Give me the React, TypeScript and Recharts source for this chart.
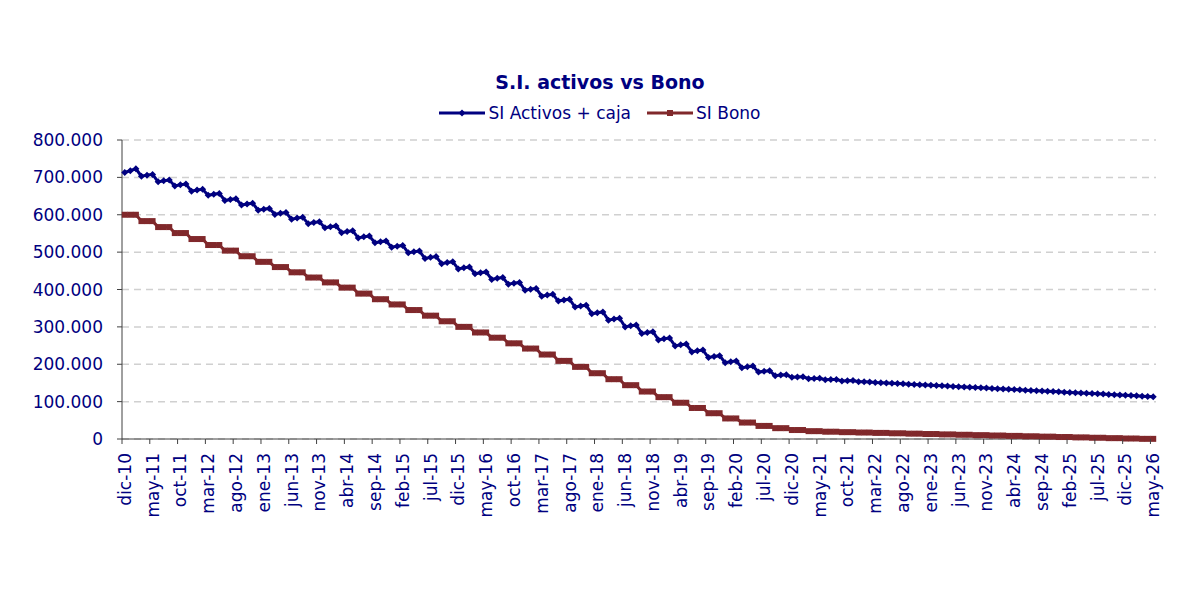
import { LineChart, Line, XAxis, YAxis, CartesianGrid } from "recharts";

// Meses (eje de categorías), dic-10 .. may-26
const meses = [
  "dic-10", "ene-11", "feb-11", "mar-11", "abr-11", "may-11", "jun-11", "jul-11", "ago-11", "sep-11", "oct-11", "nov-11",
  "dic-11", "ene-12", "feb-12", "mar-12", "abr-12", "may-12", "jun-12", "jul-12", "ago-12", "sep-12", "oct-12", "nov-12",
  "dic-12", "ene-13", "feb-13", "mar-13", "abr-13", "may-13", "jun-13", "jul-13", "ago-13", "sep-13", "oct-13", "nov-13",
  "dic-13", "ene-14", "feb-14", "mar-14", "abr-14", "may-14", "jun-14", "jul-14", "ago-14", "sep-14", "oct-14", "nov-14",
  "dic-14", "ene-15", "feb-15", "mar-15", "abr-15", "may-15", "jun-15", "jul-15", "ago-15", "sep-15", "oct-15", "nov-15",
  "dic-15", "ene-16", "feb-16", "mar-16", "abr-16", "may-16", "jun-16", "jul-16", "ago-16", "sep-16", "oct-16", "nov-16",
  "dic-16", "ene-17", "feb-17", "mar-17", "abr-17", "may-17", "jun-17", "jul-17", "ago-17", "sep-17", "oct-17", "nov-17",
  "dic-17", "ene-18", "feb-18", "mar-18", "abr-18", "may-18", "jun-18", "jul-18", "ago-18", "sep-18", "oct-18", "nov-18",
  "dic-18", "ene-19", "feb-19", "mar-19", "abr-19", "may-19", "jun-19", "jul-19", "ago-19", "sep-19", "oct-19", "nov-19",
  "dic-19", "ene-20", "feb-20", "mar-20", "abr-20", "may-20", "jun-20", "jul-20", "ago-20", "sep-20", "oct-20", "nov-20",
  "dic-20", "ene-21", "feb-21", "mar-21", "abr-21", "may-21", "jun-21", "jul-21", "ago-21", "sep-21", "oct-21", "nov-21",
  "dic-21", "ene-22", "feb-22", "mar-22", "abr-22", "may-22", "jun-22", "jul-22", "ago-22", "sep-22", "oct-22", "nov-22",
  "dic-22", "ene-23", "feb-23", "mar-23", "abr-23", "may-23", "jun-23", "jul-23", "ago-23", "sep-23", "oct-23", "nov-23",
  "dic-23", "ene-24", "feb-24", "mar-24", "abr-24", "may-24", "jun-24", "jul-24", "ago-24", "sep-24", "oct-24", "nov-24",
  "dic-24", "ene-25", "feb-25", "mar-25", "abr-25", "may-25", "jun-25", "jul-25", "ago-25", "sep-25", "oct-25", "nov-25",
  "dic-25", "ene-26", "feb-26", "mar-26", "abr-26", "may-26",
];

// SI Activos + caja
const siActivosCaja = [
  713000, 718000, 723000, 703000, 706000, 708000, 688000, 691000, 693000, 677000, 680000, 682000,
  663000, 666000, 668000, 652000, 655000, 657000, 638000, 641000, 643000, 626000, 629000, 631000,
  612000, 615000, 617000, 601000, 604000, 606000, 588000, 591000, 593000, 576000, 579000, 581000,
  565000, 568000, 570000, 552000, 555000, 557000, 538000, 541000, 543000, 525000, 528000, 530000,
  513000, 516000, 518000, 498000, 501000, 503000, 483000, 486000, 488000, 469000, 472000, 474000,
  455000, 458000, 460000, 442000, 445000, 447000, 427000, 430000, 432000, 414000, 417000, 419000,
  398000, 401000, 403000, 382000, 385000, 387000, 369000, 372000, 374000, 353000, 356000, 358000,
  335000, 338000, 340000, 318000, 321000, 323000, 300000, 303000, 305000, 282000, 285000, 287000,
  265000, 268000, 270000, 249000, 252000, 254000, 233000, 236000, 238000, 218000, 221000, 223000,
  204000, 207000, 209000, 190500, 193000, 195000, 179000, 181000, 182500, 169500, 171000, 172000,
  165000, 166000, 166800, 161200, 162000, 162600, 158400, 159000, 159500, 155500, 156000, 156400,
  153400, 153000, 152600, 151400, 150700, 150000, 149100, 148400, 147700, 146800, 146100, 145400,
  144500, 143800, 143100, 142200, 141500, 140800, 139900, 139200, 138500, 137600, 136900, 136200,
  135300, 134600, 133900, 133000, 132300, 131600, 130700, 130000, 129300, 128400, 127700, 127000,
  126100, 125400, 124700, 123800, 123100, 122400, 121500, 120800, 120100, 119200, 118500, 117800,
  116900, 116200, 115500, 114600, 113900, 113200,
];

// SI Bono
const siBono = [
  600000, 600000, 600000, 583000, 583000, 583000, 567000, 567000, 567000, 551000, 551000, 551000,
  535000, 535000, 535000, 519000, 519000, 519000, 504000, 504000, 504000, 489000, 489000, 489000,
  474000, 474000, 474000, 460000, 460000, 460000, 446000, 446000, 446000, 432000, 432000, 432000,
  419000, 419000, 419000, 405000, 405000, 405000, 389000, 389000, 389000, 374000, 374000, 374000,
  360000, 360000, 360000, 345000, 345000, 345000, 330000, 330000, 330000, 315000, 315000, 315000,
  300000, 300000, 300000, 285000, 285000, 285000, 271000, 271000, 271000, 256000, 256000, 256000,
  242000, 242000, 242000, 226000, 226000, 226000, 209000, 209000, 209000, 193000, 193000, 193000,
  176000, 176000, 176000, 160000, 160000, 160000, 144000, 144000, 144000, 127000, 127000, 127000,
  112000, 112000, 112000, 97000, 97000, 97000, 83000, 83000, 83000, 69000, 69000, 69000,
  55000, 55000, 55000, 44000, 44000, 44000, 35000, 35000, 35000, 29000, 29000, 29000,
  24000, 24000, 24000, 21000, 21000, 21000, 19500, 19500, 19500, 18300, 18300, 18300,
  17300, 17300, 17300, 16300, 16300, 16300, 15300, 15300, 15300, 14300, 14300, 14300,
  13300, 13300, 13300, 12300, 12300, 12300, 11300, 11300, 11300, 10300, 10300, 10300,
  9300, 9300, 9300, 8300, 8300, 8300, 7300, 7300, 7300, 6300, 6300, 6300,
  5300, 5300, 5300, 4300, 4300, 4300, 3300, 3300, 3300, 2300, 2300, 2300,
  1300, 1300, 1300, 400, 400, 400,
];

const yTicks = [0, 100000, 200000, 300000, 400000, 500000, 600000, 700000, 800000];

const NAVY = "#000080";
const GRANATE = "#80282b";
const AXIS = "#404040";
const FONT = "'DejaVu Sans', Verdana, sans-serif";

const CHART_W = 1168;
const CHART_H = 578;
const PLOT_W = 1034;
const CAT = PLOT_W / meses.length; // ancho de un mes

const data = meses.map((mes, i) => ({ mes, activos: siActivosCaja[i], bono: siBono[i] }));

function miles(v: number) {
  return String(v).replace(/\B(?=(\d{3})+(?!\d))/g, ".");
}

function MesTick(props: any) {
  const { x, y, payload } = props;
  const tx = x - CAT / 2;
  return (
    <g>
      <line x1={tx} y1={y} x2={tx} y2={y + 5} stroke={AXIS} strokeWidth={1} />
      <text
        transform={`translate(${x + 6},${y + 14}) rotate(-90)`}
        textAnchor="end"
        fill={NAVY}
        fontSize={17}
        fontFamily={FONT}
      >
        {payload.value}
      </text>
    </g>
  );
}

function Rombo(props: any) {
  const { cx, cy, index } = props;
  if (cx == null || cy == null) return <g key={`a-${index}`} />;
  const r = 3.5;
  return (
    <path
      key={`a-${index}`}
      d={`M${cx},${cy - r}L${cx + r},${cy}L${cx},${cy + r}L${cx - r},${cy}Z`}
      fill={NAVY}
    />
  );
}

function Cuadro(props: any) {
  const { cx, cy, index } = props;
  if (cx == null || cy == null) return <g key={`b-${index}`} />;
  return <rect key={`b-${index}`} x={cx - 3} y={cy - 3} width={6} height={6} fill={GRANATE} />;
}

function Leyenda() {
  const item = (color: string, marker: "rombo" | "cuadro", label: string) => (
    <div style={{ display: "flex", alignItems: "center" }}>
      <svg width={46} height={12}>
        <line x1={0} y1={6} x2={46} y2={6} stroke={color} strokeWidth={marker === "rombo" ? 3 : 3} />
        {marker === "rombo" ? (
          <path d="M23,2.5L26.5,6L23,9.5L19.5,6Z" fill={color} />
        ) : (
          <rect x={20} y={3} width={6} height={6} fill={color} />
        )}
      </svg>
      <span style={{ marginLeft: 3 }}>{label}</span>
    </div>
  );
  return (
    <div
      style={{
        position: "absolute",
        top: 95,
        left: 0,
        width: 1184,
        display: "flex",
        justifyContent: "center",
        gap: 16,
        color: NAVY,
        fontSize: 17,
        lineHeight: "20px",
        fontFamily: FONT,
      }}
    >
      {item(NAVY, "rombo", "SI Activos + caja")}
      {item(GRANATE, "cuadro", "SI Bono")}
    </div>
  );
}

export default function App() {
  return (
    <div style={{ position: "relative", width: CHART_W, height: CHART_H, fontFamily: FONT }}>
      <div
        style={{
          position: "absolute",
          top: 63,
          left: 0,
          width: 1184,
          textAlign: "center",
          color: NAVY,
          fontWeight: "bold",
          fontSize: 19,
          lineHeight: "22px",
        }}
      >
        S.I. activos vs Bono
      </div>
      <Leyenda />
      <LineChart
        width={CHART_W}
        height={CHART_H}
        data={data}
        margin={{ top: 132, right: CHART_W - 114 - PLOT_W, left: 0, bottom: 77 }}
      >
        <CartesianGrid vertical={false} stroke="#d0d0d0" strokeDasharray="7 5" strokeWidth={1.5} />
        <XAxis
          dataKey="mes"
          interval={4}
          height={70}
          tick={<MesTick />}
          tickLine={false}
          tickSize={0}
          tickMargin={0}
          axisLine={{ stroke: AXIS }}
          padding={{ left: CAT / 2, right: CAT / 2 }}
        />
        <YAxis
          width={114}
          domain={[0, 800000]}
          ticks={yTicks}
          tickFormatter={miles}
          tick={{ fill: NAVY, fontSize: 17, fontFamily: FONT }}
          tickSize={5}
          tickMargin={14}
          tickLine={{ stroke: AXIS }}
          axisLine={{ stroke: AXIS }}
          interval={0}
        />
        <Line
          dataKey="bono"
          name="SI Bono"
          stroke={GRANATE}
          strokeWidth={3}
          dot={Cuadro}
          activeDot={false}
          isAnimationActive={false}
        />
        <Line
          dataKey="activos"
          name="SI Activos + caja"
          stroke={NAVY}
          strokeWidth={3}
          dot={Rombo}
          activeDot={false}
          isAnimationActive={false}
        />
      </LineChart>
    </div>
  );
}
